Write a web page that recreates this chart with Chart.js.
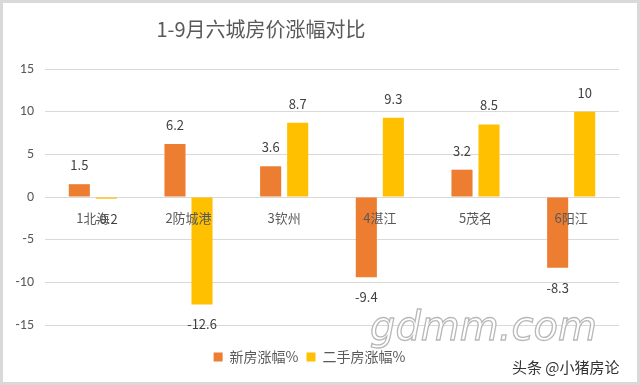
<!DOCTYPE html>
<html>
<head>
<meta charset="utf-8">
<script src="https://cdn.jsdelivr.net/npm/chart.js@4"></script>
<style>
html,body{margin:0;padding:0;background:#fff;}
#wrap{width:640px;height:385px;position:relative;}
</style>
</head>
<body>
<div id="wrap"><canvas id="c" width="640" height="385"></canvas></div>
<script>
const categories = ['1北海', '2防城港', '3钦州', '4湛江', '5茂名', '6阳江'];
const newHouse = [1.5, 6.2, 3.6, -9.4, 3.2, -8.3];
const secondHand = [-0.2, -12.6, 8.7, 9.3, 8.5, 10];
const seriesNames = ['新房涨幅%', '二手房涨幅%'];
const yTicks = [-15, -10, -5, 0, 5, 10, 15];
const titleText = '1-9月六城房价涨幅对比';

const FONT = '"Noto Sans CJK SC", "Noto Sans", sans-serif';

const dataLabels = {
  id: 'dataLabels',
  afterDatasetsDraw(chart) {
    const ctx = chart.ctx;
    ctx.save();
    ctx.font = '13px ' + FONT;
    ctx.fillStyle = '#404040';
    ctx.textAlign = 'center';
    ctx.textBaseline = 'middle';
    chart.data.datasets.forEach((ds, i) => {
      chart.getDatasetMeta(i).data.forEach((bar, j) => {
        const v = ds.data[j];
        const y = v >= 0 ? bar.y - 19 : bar.y + 20;
        ctx.fillText(String(v), bar.x, y);
      });
    });
    ctx.restore();
  }
};

const decor = {
  id: 'decor',
  afterDraw(chart) {
    const ctx = chart.ctx;
    ctx.save();
    // title
    ctx.font = '20px ' + FONT;
    ctx.fillStyle = '#595959';
    ctx.textAlign = 'center';
    ctx.textBaseline = 'middle';
    ctx.fillText(titleText, 261, 29);
    // watermark
    ctx.font = 'italic 300 40px "DejaVu Sans", sans-serif';
    ctx.textAlign = 'left';
    ctx.textBaseline = 'alphabetic';
    ctx.lineWidth = 1.3;
    ctx.strokeStyle = '#b8b8b8';
    ctx.fillStyle = 'rgba(255,255,255,0.9)';
    ctx.fillText('gdmm.com', 370, 340);
    ctx.strokeText('gdmm.com', 370, 340);
    // source text
    ctx.font = '15px ' + FONT;
    ctx.fillStyle = '#333333';
    ctx.textBaseline = 'middle';
    ctx.fillText('头条 @小猪房论', 512, 367);
    // outer border
    ctx.strokeStyle = '#d9d9d9';
    ctx.lineWidth = 3;
    ctx.strokeRect(1.5, 1.5, 637, 382);
    ctx.restore();
  }
};

new Chart(document.getElementById('c'), {
  type: 'bar',
  data: {
    labels: categories,
    datasets: [
      { label: seriesNames[0], data: newHouse, backgroundColor: '#ED7D31' },
      { label: seriesNames[1], data: secondHand, backgroundColor: '#FFC000' }
    ]
  },
  options: {
    responsive: false,
    animation: false,
    categoryPercentage: 0.565,
    barPercentage: 0.78,
    layout: { padding: { left: 0, right: 21, top: 69, bottom: 11 } },
    plugins: {
      title: { display: false },
      legend: {
        position: 'bottom',
        labels: {
          color: '#595959',
          font: { family: FONT, size: 14 },
          boxWidth: 9,
          boxHeight: 9,
          padding: 8
        }
      },
      tooltip: { enabled: false }
    },
    scales: {
      x: {
        position: { y: 0 },
        grid: { display: false, drawTicks: false },
        border: { display: true, color: '#d9d9d9' },
        ticks: { z: 1, color: '#595959', font: { family: FONT, size: 13 }, padding: 13 }
      },
      spacer: {
        type: 'category',
        position: 'bottom',
        labels: categories,
        grid: { display: false, drawTicks: false },
        border: { display: false },
        ticks: { display: false },
        afterFit(scale) { scale.height = 17; }
      },
      y: {
        min: -15,
        max: 15,
        afterBuildTicks(scale) { scale.ticks = yTicks.map(v => ({ value: v })); },
        afterFit(scale) { scale.width = 45; },
        grid: { color: '#d9d9d9', drawTicks: false },
        border: { display: false },
        ticks: { color: '#595959', font: { family: 'Calibri, "Liberation Sans", sans-serif', size: 14 }, padding: 11 }
      }
    }
  },
  plugins: [dataLabels, decor]
});
</script>
</body>
</html>
